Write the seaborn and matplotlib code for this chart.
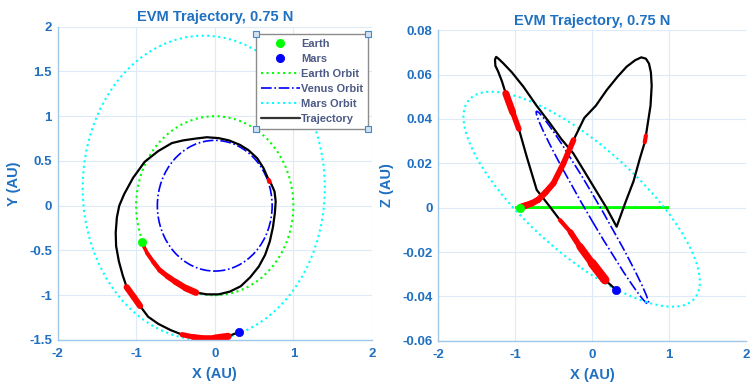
import numpy as np
import pandas as pd
import matplotlib
matplotlib.use("Agg")
import matplotlib.pyplot as plt
import seaborn as sns
from matplotlib.patches import Circle
from matplotlib.transforms import Affine2D
from matplotlib.lines import Line2D

# ---------------- data ----------------
traj_x = [-0.93, -0.90, -0.86, -0.78, -0.70, -0.60, -0.50, -0.37, -0.24, -0.10,
          0.05, 0.19, 0.33, 0.45, 0.56, 0.64, 0.70, 0.74, 0.765, 0.775,
          0.76, 0.72, 0.70, 0.685, 0.62, 0.54, 0.43, 0.32, 0.18, 0.05,
          -0.10, -0.243, -0.40, -0.545, -0.72, -0.892, -1.04, -1.152, -1.215, -1.245,
          -1.26, -1.255, -1.22, -1.17, -1.12, -1.03, -0.95, -0.848, -0.718, -0.56,
          -0.416, -0.28, -0.156, 0.00, 0.169, 0.31]
traj_y = [-0.40, -0.46, -0.53, -0.63, -0.72, -0.79, -0.85, -0.92, -0.97, -0.99,
          -0.99, -0.96, -0.90, -0.80, -0.68, -0.55, -0.40, -0.24, -0.08, 0.05,
          0.16, 0.24, 0.265, 0.29, 0.42, 0.53, 0.62, 0.68, 0.73, 0.755,
          0.765, 0.75, 0.73, 0.70, 0.61, 0.49, 0.31, 0.13, 0.00, -0.13,
          -0.30, -0.45, -0.62, -0.78, -0.91, -1.02, -1.12, -1.24, -1.32, -1.39,
          -1.44, -1.465, -1.48, -1.48, -1.46, -1.41]
traj_z = [0.000, 0.0005, 0.001, 0.002, 0.0035, 0.007, 0.011, 0.020, 0.0305, 0.0405,
          0.046, 0.053, 0.059, 0.0636, 0.0665, 0.0678, 0.0672, 0.065, 0.061, 0.055,
          0.046, 0.037, 0.0325, 0.0295, 0.022, 0.012, 0.002, -0.0086, 0.0004, 0.0078,
          0.0164, 0.0245, 0.031, 0.038, 0.046, 0.0546, 0.061, 0.0651, 0.0672, 0.0680,
          0.0668, 0.064, 0.0615, 0.057, 0.0515, 0.043, 0.0355, 0.023, 0.008, 0.001,
          -0.0056, -0.011, -0.0176, -0.025, -0.0326, -0.037]
# thrust arcs: (first index, last index)
thrust_arcs = [(0, 8), (22, 23), (44, 46), (50, 54)]

earth_xyz = [-0.93, -0.40, 0.0]
mars_xyz = [0.31, -1.41, -0.037]

# projected orbits: (a, b, c, d, e, f) affine images of the unit circle
orbit_names = ["Earth Orbit", "Venus Orbit", "Mars Orbit"]
orbit_colors = ["#00ff00", "#0000ff", "#00ffff"]
orbits_xy = [(1.0, 0, 0, 1.0, 0, 0),
             (0.73, 0, 0, 0.73, 0, 0),
             (1.54, 0, 0, 1.70, -0.14, 0.20)]
orbits_xz = [(1.0, 0, 0, 0.0, 0, 0),
             (0.73, -0.043, 0, 0.0062, 0.005, 0),
             (1.535, -0.0372, 0, 0.0311, -0.135, 0.0038)]

xticks = [-2, -1, 0, 1, 2]
yticks_xy = [-1.5, -1, -0.5, 0, 0.5, 1, 1.5, 2]
ylabels_xy = ["-1.5", "-1", "-0.5", "0", "0.5", "1", "1.5", "2"]
yticks_xz = [-0.06, -0.04, -0.02, 0, 0.02, 0.04, 0.06, 0.08]
ylabels_xz = ["-0.06", "-0.04", "-0.02", "0", "0.02", "0.04", "0.06", "0.08"]

# ---------------- style ----------------
sns.set_theme(style="white")
plt.rcParams["font.family"] = ["Liberation Sans", "DejaVu Sans"]
BLUE = "#1f70c1"
SPINE = "#9fc8ea"
GRID = "#dcebf7"
ORBIT_STYLES_XY = [":", "-.", ":"]
ORBIT_STYLES_XZ = ["-", "-.", ":"]
ORBIT_LW_XY = [1.5, 1.2, 1.5]
ORBIT_LW_XZ = [1.6, 1.2, 1.5]
# red line widths at (start, end) of each thrust arc
RED_LW_XY = [(2.0, 5.0), (3.0, 3.0), (4.5, 4.5), (3.5, 5.5)]
RED_LW_XZ = [(5.0, 4.0), (3.0, 3.0), (5.5, 3.5), (2.5, 7.0)]

df = pd.DataFrame({"x": traj_x, "y": traj_y, "z": traj_z})

fig = plt.figure(figsize=(7.53, 3.84), dpi=100)
ax1 = fig.add_axes([0.0764, 0.1146, 0.4176, 0.8159])
ax2 = fig.add_axes([0.5817, 0.1128, 0.4090, 0.8083])


def style_axes(ax, yt, yl, ylim, ylabel):
    ax.set_xlim(-2, 2)
    ax.set_ylim(*ylim)
    ax.set_xticks(xticks)
    ax.set_xticklabels([str(v) for v in xticks])
    ax.set_yticks(yt)
    ax.set_yticklabels(yl)
    ax.grid(True, color=GRID, lw=0.8)
    ax.set_axisbelow(True)
    for s in ["top", "right"]:
        ax.spines[s].set_visible(False)
    for s in ["left", "bottom"]:
        ax.spines[s].set_color(SPINE)
        ax.spines[s].set_linewidth(1.0)
    ax.tick_params(direction="in", length=3, color=SPINE, labelcolor=BLUE,
                   labelsize=9.5)
    ax.tick_params(axis="x", pad=6)
    ax.tick_params(axis="y", pad=4)
    for lab in ax.get_xticklabels() + ax.get_yticklabels():
        lab.set_fontweight("bold")
    ax.set_xlabel("X (AU)", color=BLUE, fontweight="bold", fontsize=10.5, labelpad=5)
    ax.set_ylabel(ylabel, color=BLUE, fontweight="bold", fontsize=10.5, labelpad=6)
    ax.set_title("EVM Trajectory, 0.75 N", color=BLUE, fontweight="bold",
                 fontsize=10.5, pad=4)


def draw(ax, ycol, orbits, styles, lws, red_lw):
    for (a, b, c, d, e, f), col, ls, lw in zip(orbits, orbit_colors, styles, lws):
        p = Circle((0, 0), 1.0, fill=False, edgecolor=col, linestyle=ls, lw=lw,
                   transform=Affine2D.from_values(a, b, c, d, e, f) + ax.transData)
        ax.add_patch(p)
    sns.lineplot(data=df, x="x", y=ycol, sort=False, estimator=None,
                 color="black", lw=1.6, ax=ax)
    for (i0, i1), (w0, w1) in zip(thrust_arcs, red_lw):
        n = i1 - i0
        for k in range(n):
            w = w0 + (w1 - w0) * (k + 0.5) / n
            sns.lineplot(data=df.iloc[i0 + k:i0 + k + 2], x="x", y=ycol,
                         sort=False, estimator=None, color="red", lw=w, ax=ax,
                         solid_capstyle="round")
    yi = 1 if ycol == "y" else 2
    sns.scatterplot(x=[earth_xyz[0]], y=[earth_xyz[yi]], color="#00ff00", s=36,
                    edgecolor="#00ff00", ax=ax, zorder=5)
    sns.scatterplot(x=[mars_xyz[0]], y=[mars_xyz[yi]], color="#0000ff", s=36,
                    edgecolor="#0000ff", ax=ax, zorder=5)


draw(ax1, "y", orbits_xy, ORBIT_STYLES_XY, ORBIT_LW_XY, RED_LW_XY)
draw(ax2, "z", orbits_xz, ORBIT_STYLES_XZ, ORBIT_LW_XZ, RED_LW_XZ)
style_axes(ax1, yticks_xy, ylabels_xy, (-1.5, 2), "Y (AU)")
style_axes(ax2, yticks_xz, ylabels_xz, (-0.06, 0.08), "Z (AU)")

handles = [
    Line2D([], [], marker="o", color="#00ff00", ls="None", markersize=5.5),
    Line2D([], [], marker="o", color="#0000ff", ls="None", markersize=5.5),
    Line2D([], [], color="#00ff00", ls=":", lw=1.5),
    Line2D([], [], color="#0000ff", ls="-.", lw=1.2),
    Line2D([], [], color="#00ffff", ls=":", lw=1.5),
    Line2D([], [], color="#333333", ls="-", lw=1.6),
]
labels = ["Earth", "Mars"] + orbit_names + ["Trajectory"]
leg = ax1.legend(handles, labels, loc="upper right", bbox_to_anchor=(0.995, 0.985),
                 frameon=True, fancybox=False, framealpha=1, edgecolor="#8c8c8c",
                 fontsize=7.9, handlelength=3.5, handletextpad=0.15,
                 labelspacing=0.47, borderpad=0.45, borderaxespad=0.2)
leg.get_frame().set_linewidth(1.0)
for t in leg.get_texts():
    t.set_color("#4d5a86")
    t.set_fontweight("bold")

fig.canvas.draw()
bb = leg.get_window_extent().transformed(fig.transFigure.inverted())
for cx, cy in [(bb.x0, bb.y0), (bb.x1, bb.y0), (bb.x0, bb.y1), (bb.x1, bb.y1)]:
    fig.add_artist(Line2D([cx], [cy], marker="s", markersize=4,
                          markerfacecolor="#cfe3f5", markeredgecolor="#4a86c5",
                          markeredgewidth=0.8, transform=fig.transFigure))

fig.savefig("out.png", dpi=100)
